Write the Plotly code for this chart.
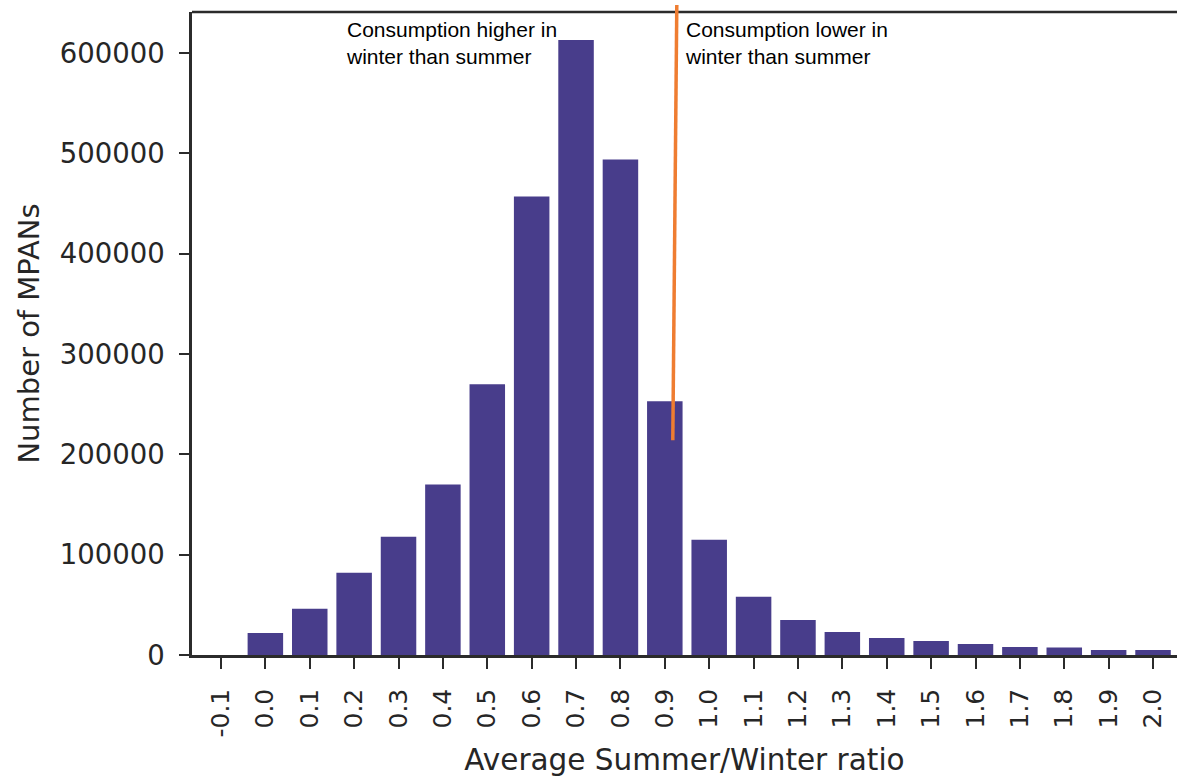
import plotly.graph_objects as go

categories = ["-0.1", "0.0", "0.1", "0.2", "0.3", "0.4", "0.5", "0.6", "0.7", "0.8", "0.9",
              "1.0", "1.1", "1.2", "1.3", "1.4", "1.5", "1.6", "1.7", "1.8", "1.9", "2.0"]
counts = [0, 22000, 46000, 82000, 118000, 170000, 270000, 457000, 613000, 494000, 253000,
          115000, 58000, 35000, 23000, 17000, 14000, 11000, 8000, 7500, 5000, 5000]

y_max = 641000
y_ticks = [0, 100000, 200000, 300000, 400000, 500000, 600000]

# threshold line (category-index position, values at ends)
line_x_top, line_x_bottom = 10.27, 10.18
line_top_val, line_bottom_val = 648000, 214000

left_note = "Consumption higher in<br>winter than summer"
right_note = "Consumption lower in<br>winter than summer"

bar_color = "#483D8B"
axis_color = "#2b2b2b"
text_color = "#262626"

fig = go.Figure()
fig.add_trace(go.Bar(x=categories, y=counts, marker=dict(color=bar_color, line=dict(width=0)),
                     showlegend=False))

fig.update_layout(
    width=1177, height=777,
    margin=dict(l=192, r=0, t=12, b=122),
    paper_bgcolor="white", plot_bgcolor="white",
    bargap=0.2,
    font=dict(family="DejaVu Sans", color=text_color),
    xaxis=dict(
        type="category", range=[-0.653, 21.54],
        showgrid=False, zeroline=False,
        showline=True, linecolor=axis_color, linewidth=2.5,
        ticks="outside", ticklen=11, tickwidth=2, tickcolor=axis_color,
        tickangle=-90, tickfont=dict(size=25, family="DejaVu Sans", color=text_color),
        ticklabelstandoff=10,
        title=dict(text="Average Summer/Winter ratio", font=dict(size=29.5, family="DejaVu Sans", color=text_color), standoff=14),
    ),
    yaxis=dict(
        range=[0, y_max], tickvals=y_ticks, tickformat="d",
        showgrid=False, zeroline=False,
        showline=True, linecolor=axis_color, linewidth=2.5,
        ticks="outside", ticklen=10, tickwidth=2, tickcolor=axis_color,
        tickfont=dict(size=27.5, family="DejaVu Sans", color=text_color),
        ticklabelstandoff=9,
        title=dict(text="Number of MPANs", font=dict(size=29, family="DejaVu Sans", color=text_color), standoff=12),
    ),
)

# top spine
fig.add_shape(type="line", xref="paper", yref="paper", x0=0, x1=1, y0=1, y1=1,
              line=dict(color=axis_color, width=2.5))

# orange threshold line
fig.add_shape(type="line", xref="x", yref="paper",
              x0=line_x_top, y0=line_top_val / y_max, x1=line_x_bottom, y1=line_bottom_val / y_max,
              line=dict(color="#ef7d31", width=3.5))

fig.add_annotation(text=left_note, xref="x", yref="paper", x=2.79, y=0.992,
                   xanchor="left", yanchor="top", align="left", showarrow=False,
                   font=dict(family="Liberation Sans", size=21, color="black"), borderpad=0)
fig.add_annotation(text=right_note, xref="x", yref="paper", x=10.44, y=0.992,
                   xanchor="left", yanchor="top", align="left", showarrow=False,
                   font=dict(family="Liberation Sans", size=21, color="black"), borderpad=0)

fig.write_html("out.html")
